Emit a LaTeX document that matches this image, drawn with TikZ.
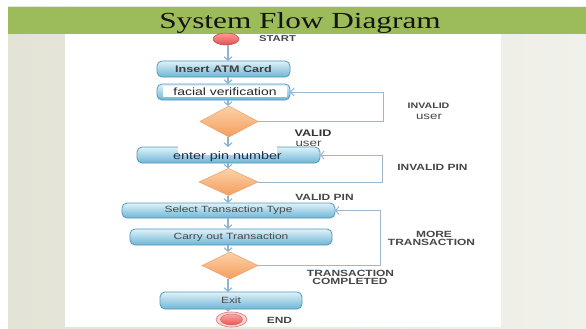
\documentclass[tikz,border=0pt]{standalone}
\usepackage{fontspec}
\setmainfont{Liberation Sans}
\newfontfamily\titlefont{Liberation Serif}
\usepackage{graphicx}
\usetikzlibrary{shapes.geometric,arrows.meta,calc}
\definecolor{bandgreen}{HTML}{9CBB5B}
\definecolor{slideL}{HTML}{E3E3D6}
\definecolor{slideR}{HTML}{F1F1EB}
\definecolor{boxtop}{HTML}{E0F2F8}
\definecolor{boxbot}{HTML}{6DB6D6}
\definecolor{boxdraw}{HTML}{5597BC}
\definecolor{diatop}{HTML}{FCD2A8}
\definecolor{diabot}{HTML}{F49E5E}
\definecolor{diadraw}{HTML}{EAA36E}
\definecolor{arrcol}{HTML}{8DB4D4}
\definecolor{loopcol}{HTML}{9DB8CC}
\definecolor{labcol}{HTML}{474747}
\definecolor{navytext}{HTML}{1F2F4F}
\newcommand{\sx}[1]{\scalebox{1.33}[1]{#1}}
\begin{document}
\begin{tikzpicture}[x=1pt,y=-1pt,
  procbox/.style={rectangle, rounded corners=5pt, draw=boxdraw, line width=0.8pt,
    top color=boxtop, bottom color=boxbot, inner sep=0pt, outer sep=0pt},
  decbox/.style={diamond, draw=diadraw, line width=0.5pt, top color=diatop, bottom color=diabot,
    inner sep=0pt, outer sep=0pt},
  flowarr/.style={draw=arrcol, line width=1.1pt, -{Straight Barb[length=3.5pt,width=8pt]}},
  looparr/.style={draw=loopcol, line width=0.9pt, -{Straight Barb[length=3.5pt,width=8pt,color=arrcol]}},
  lab/.style={font=\fontsize{9}{9}\selectfont\bfseries, text=labcol, inner sep=0pt, anchor=base},
  usr/.style={font=\fontsize{10}{10}\selectfont, text=labcol, inner sep=0pt, anchor=base},
  boxtext/.style={font=\fontsize{9}{9}\selectfont, text=labcol, inner sep=0pt},
]
\useasboundingbox (0,0) rectangle (586,329);
% slide background
\fill[white] (0,0) rectangle (586,329);
\shade[left color=slideL, right color=slideR] (8,7) rectangle (586,329);
\fill[bandgreen] (8,7) rectangle (586,34);
\fill[white] (65,34) rectangle (501,327);
\node[font=\titlefont\fontsize{23}{23}\selectfont, text=black!92, inner sep=0pt, anchor=base] (title) at (300,29) {\scalebox{1.36}[1]{System Flow Diagram}};

% start
\node[ellipse, minimum width=26pt, minimum height=12pt, inner sep=0pt, draw=red!55!black!70, line width=0.5pt,
  top color=red!40, bottom color=red!65!white!90!black] (start) at (226,39) {};
\node[lab, font=\fontsize{8.5}{8.5}\selectfont\bfseries] (startl) at (277.5,42) {\sx{START}};

% process boxes
\node[procbox, minimum width=133pt, minimum height=16pt,
  font=\fontsize{9.5}{9.5}\selectfont\bfseries, text=black!75] (ins) at (223.5,69) {\sx{Insert ATM Card}};
\node[procbox, minimum width=133pt, minimum height=16pt] (fac) at (223.5,92) {};
\node[fill=white, minimum width=124pt, minimum height=11pt, inner sep=0pt,
  font=\fontsize{10.5}{10.5}\selectfont, text=black!85] (factext) at (225,91.5) {\sx{facial verification}};

\node[decbox, minimum width=58pt, minimum height=31pt] (d1) at (229,121.5) {};

\node[procbox, minimum width=183pt, minimum height=16pt] (pin) at (228.5,155) {};
\fill[white] (178,146) rectangle (277,155);
\node[font=\fontsize{10.8}{10.8}\selectfont, text=navytext, inner sep=0pt] (pintext) at (227.5,157) {\sx{enter pin number}};

\node[decbox, minimum width=59pt, minimum height=27pt] (d2) at (228.5,182) {};

\node[procbox, minimum width=213pt, minimum height=15pt, boxtext] (sel) at (228.5,210.5) {\sx{Select Transaction Type}};
\node[procbox, minimum width=202pt, minimum height=16pt, boxtext] (car) at (231,237) {\sx{Carry out Transaction}};

\node[decbox, minimum width=56pt, minimum height=27pt] (d3) at (230,265.5) {};

\node[procbox, minimum width=142pt, minimum height=17pt, boxtext] (exit) at (231,300.5) {\sx{Exit}};

% end
\node[ellipse, minimum width=31pt, minimum height=15pt, inner sep=0pt, draw=red!45!white!85!black, line width=0.6pt,
  fill=red!18] (endo) at (231.5,319.5) {};
\node[ellipse, minimum width=22pt, minimum height=11pt, inner sep=0pt, draw=red!60!black!60, line width=0.4pt,
  top color=red!35, bottom color=red!65!white!92!black] (endi) at (231.5,319.5) {};
\node[lab] (endl) at (279.5,323) {\sx{END}};

% vertical axis for the flow arrows
\coordinate (axis) at (228,0);
\draw[flowarr] (start.south -| axis) -- (ins.north -| axis);
\draw[flowarr] (ins.south -| axis) -- (fac.north -| axis);
\draw[flowarr] (fac.south -| axis) -- (d1.north -| axis);
\draw[flowarr] (d1.south -| axis) -- (pin.north -| axis);
\draw[flowarr] (pin.south -| axis) -- (d2.north -| axis);
\draw[flowarr] (d2.south -| axis) -- (sel.north -| axis);
\draw[flowarr] (sel.south -| axis) -- (car.north -| axis);
\draw[flowarr] (car.south -| axis) -- (d3.north -| axis);
\draw[flowarr] (d3.south -| axis) -- (exit.north -| axis);
\draw[flowarr] (exit.south -| axis) -- (endo.north -| axis);

% feedback loops
\coordinate (x1) at (383,0);
\coordinate (x2) at (382,0);
\coordinate (x3) at (380,0);
\draw[looparr] (d1.east) -- (d1.east -| x1) -- (fac.east -| x1) -- (fac.east);
\draw[looparr] (d2.east) -- (d2.east -| x2) -- (pin.east -| x2) -- (pin.east);
\draw[looparr] (d3.east) -- (d3.east -| x3) -- (sel.east -| x3) -- (sel.east);

% labels
\node[lab, font=\fontsize{8}{8}\selectfont\bfseries] (inv1) at (428.5,108) {\sx{INVALID}};
\node[usr] (inv1u) at (429,119) {\sx{user}};
\node[lab, font=\fontsize{9.5}{9.5}\selectfont\bfseries, text=black!80] (val1) at (313,136.5) {\sx{VALID}};
\node[usr] (val1u) at (308.5,146) {\sx{user}};
\node[lab] (inv2) at (432.5,170) {\sx{INVALID PIN}};
\node[lab] (val2) at (324.5,200.5) {\sx{VALID PIN}};
\node[lab] (more1) at (434,237) {\sx{MORE}};
\node[lab] (more2) at (431.5,245.5) {\sx{TRANSACTION}};
\node[lab] (comp1) at (350.5,276.5) {\sx{TRANSACTION}};
\node[lab] (comp2) at (350,284.5) {\sx{COMPLETED}};
\end{tikzpicture}
\end{document}
